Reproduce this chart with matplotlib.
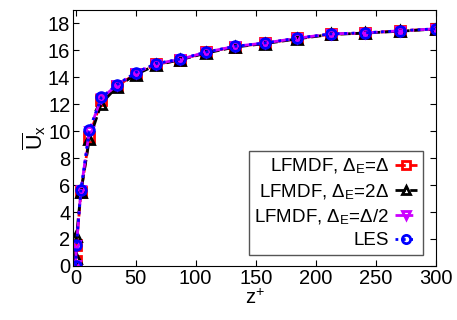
import matplotlib
matplotlib.use("Agg")
import matplotlib.pyplot as plt

plt.rcParams["font.family"] = ["Liberation Sans", "DejaVu Sans"]
plt.rcParams["mathtext.fontset"] = "custom"
plt.rcParams["mathtext.rm"] = "Liberation Sans"
plt.rcParams["mathtext.it"] = "Liberation Serif:italic"
plt.rcParams["mathtext.bf"] = "Liberation Sans:bold"

# wall distance z+
z_plus = [0, 0.8, 4.5, 11.5, 21.5, 34.5, 50, 67, 87, 109, 133, 158, 184.5, 212.5, 241, 270, 300]

# mean streamwise velocity
u_lfmdf_d = [0.4, 1.55, 5.45, 9.6, 12.3, 13.35, 14.25, 14.95, 15.3, 15.85, 16.28, 16.52, 16.88, 17.2, 17.28, 17.45, 17.58]
u_lfmdf_2d = [0.6, 2.2, 5.5, 9.4, 12.05, 13.3, 14.2, 14.9, 15.3, 15.8, 16.25, 16.5, 16.85, 17.18, 17.28, 17.42, 17.58]
u_lfmdf_half = [0.05, 1.55, 5.6, 10.05, 12.45, 13.42, 14.33, 15.0, 15.33, 15.87, 16.3, 16.55, 16.9, 17.22, 17.3, 17.45, 17.6]
u_les = [0, 1.55, 5.65, 10.1, 12.5, 13.45, 14.35, 15.02, 15.35, 15.88, 16.3, 16.55, 16.9, 17.22, 17.3, 17.45, 17.6]

labels = [r"LFMDF, $\Delta_{\rm E}$=$\Delta$",
          r"LFMDF, $\Delta_{\rm E}$=2$\Delta$",
          r"LFMDF, $\Delta_{\rm E}$=$\Delta$/2",
          "LES"]

fs = 14.5

fig = plt.figure(figsize=(4.57, 3.2), dpi=100)
ax = fig.add_axes([0.16, 0.169, 0.794, 0.80])

ax.plot(z_plus, u_lfmdf_d, color="red", ls="--", lw=2, marker="s", ms=7,
        mfc="none", mew=2, label=labels[0])
ax.plot(z_plus, u_lfmdf_2d, color="black", ls="--", lw=2, marker="^", ms=7,
        mfc="none", mew=2, label=labels[1])
ax.plot(z_plus, u_lfmdf_half, color="#cc00ff", ls="-.", lw=2, marker="v", ms=6,
        mfc="none", mew=2, label=labels[2])
ax.plot(z_plus, u_les, color="blue", ls=":", lw=2, marker="o", ms=7,
        mfc="none", mew=2, label=labels[3])

ax.set_xlim(-2, 300)
ax.set_ylim(0, 19)
ax.set_xticks(range(0, 301, 50))
ax.set_yticks(range(0, 19, 2))
ax.tick_params(direction="in", top=True, right=True, labelsize=fs, length=4, pad=2)

ax.set_xlabel(r"z$^{+}$", fontsize=fs, labelpad=1)
ax.set_ylabel(r"$\overline{\rm U}_x$", fontsize=fs + 1, labelpad=0)

leg = ax.legend(loc="lower right", markerfirst=False, fontsize=13.5,
                handlelength=1.2, handletextpad=0.3, labelspacing=0.3,
                borderpad=0.3, borderaxespad=0, fancybox=False, framealpha=1,
                markerscale=0.85, bbox_to_anchor=(0.964, 0.043))
leg.get_frame().set_edgecolor("#555555")
leg.get_frame().set_linewidth(1)

fig.savefig("out.png", dpi=100)
